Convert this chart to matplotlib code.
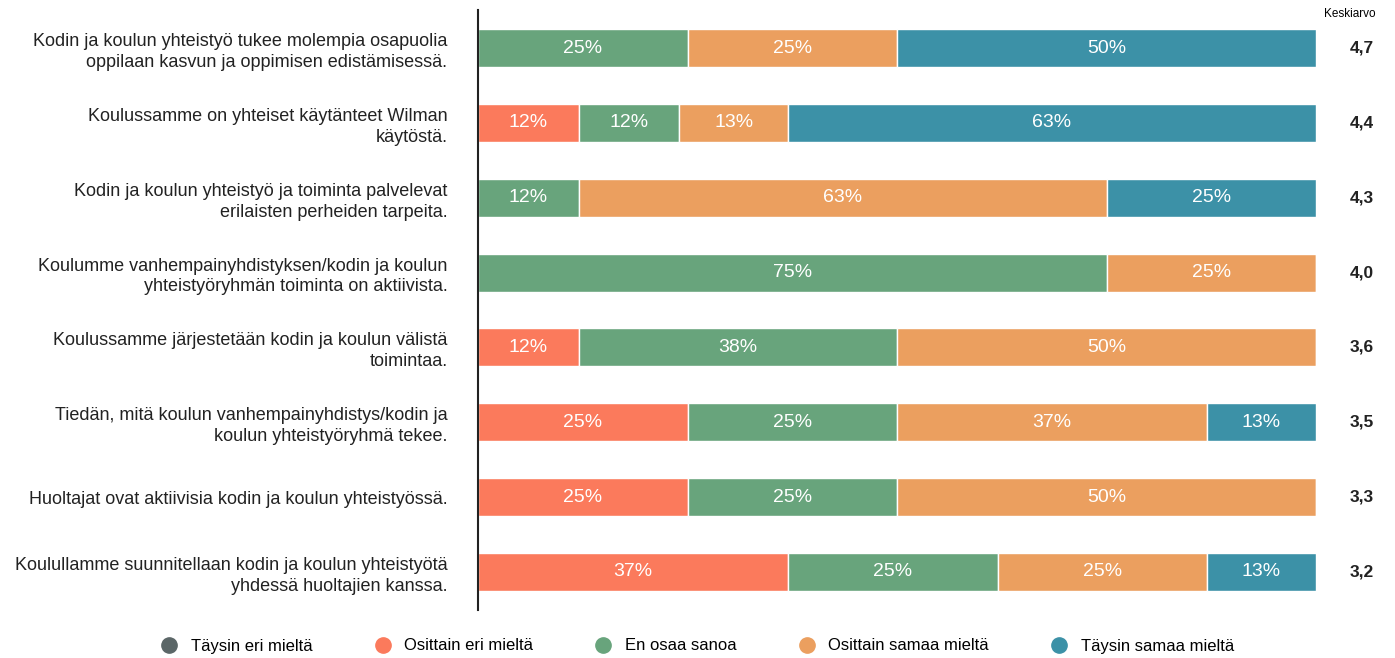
import numpy as np
import matplotlib.pyplot as plt
from matplotlib.lines import Line2D

plt.rcParams['font.family'] = ['Liberation Sans', 'DejaVu Sans']

questions = [
	"Kodin ja koulun yhteistyö tukee molempia osapuolia\noppilaan kasvun ja oppimisen edistämisessä.",
	"Koulussamme on yhteiset käytänteet Wilman\nkäytöstä.",
	"Kodin ja koulun yhteistyö ja toiminta palvelevat\nerilaisten perheiden tarpeita.",
	"Koulumme vanhempainyhdistyksen/kodin ja koulun\nyhteistyöryhmän toiminta on aktiivista.",
	"Koulussamme järjestetään kodin ja koulun välistä\ntoimintaa.",
	"Tiedän, mitä koulun vanhempainyhdistys/kodin ja\nkoulun yhteistyöryhmä tekee.",
	"Huoltajat ovat aktiivisia kodin ja koulun yhteistyössä.",
	"Koulullamme suunnitellaan kodin ja koulun yhteistyötä\nyhdessä huoltajien kanssa.",
]
categories = ["Täysin eri mieltä", "Osittain eri mieltä", "En osaa sanoa",
	"Osittain samaa mieltä", "Täysin samaa mieltä"]
colors = ["#5b6667", "#fb7a5c", "#68a47c", "#eb9f5f", "#3c91a7"]

taysin_eri = [0, 0, 0, 0, 0, 0, 0, 0]
osittain_eri = [0, 12, 0, 0, 12, 25, 25, 37]
en_osaa = [25, 12, 12, 75, 38, 25, 25, 25]
osittain_samaa = [25, 13, 63, 25, 50, 37, 50, 25]
taysin_samaa = [50, 63, 25, 0, 0, 13, 0, 13]
keskiarvo = ["4,7", "4,4", "4,3", "4,0", "3,6", "3,5", "3,3", "3,2"]

series = [taysin_eri, osittain_eri, en_osaa, osittain_samaa, taysin_samaa]

fig = plt.figure(figsize=(13.95, 6.58), dpi=100)
ax = fig.add_axes([478 / 1395, 48 / 658, 838 / 1395, 600 / 658])

y = np.arange(len(questions))
left = np.zeros(len(questions))
for vals, col in zip(series, colors):
	vals = np.array(vals, dtype=float)
	ax.barh(y, vals, left=left, height=0.51, color=col, edgecolor='white', linewidth=1)
	for i in range(len(y)):
		if vals[i] > 0:
			ax.text(left[i] + vals[i] / 2, y[i], '{:d}%'.format(int(vals[i])),
				ha='center', va='center', color='white', fontsize=14)
	left = left + vals

ax.set_xlim(0, 100)
ax.set_ylim(len(questions) - 0.49, -0.51)
ax.set_yticks(y)
ax.set_yticklabels(questions, fontsize=13, linespacing=1.3, color='#222222')
ax.tick_params(axis='y', length=0, pad=22)
ax.set_xticks([])
for s in ['top', 'right', 'bottom']:
	ax.spines[s].set_visible(False)
ax.spines['left'].set_linewidth(1.5)
ax.spines['left'].set_color('#222222')

fig.text(1350 / 1395, 1 - 14 / 658, 'Keskiarvo', ha='center', va='center', fontsize=8.5)
for i in range(len(y)):
	ax.text(105.5, y[i], keskiarvo[i], ha='center', va='center', fontsize=12.5,
		fontweight='bold', color='#222222', clip_on=False)

handles = [Line2D([0], [0], marker='o', linestyle='', markersize=11,
	markerfacecolor=c, markeredgecolor=c) for c in colors]
fig.legend(handles, categories, loc='center', bbox_to_anchor=(0.497, 1 - 646 / 658),
	ncol=5, frameon=False, fontsize=12, columnspacing=3.2, handletextpad=0.3)

fig.savefig('out.png', dpi=100)
